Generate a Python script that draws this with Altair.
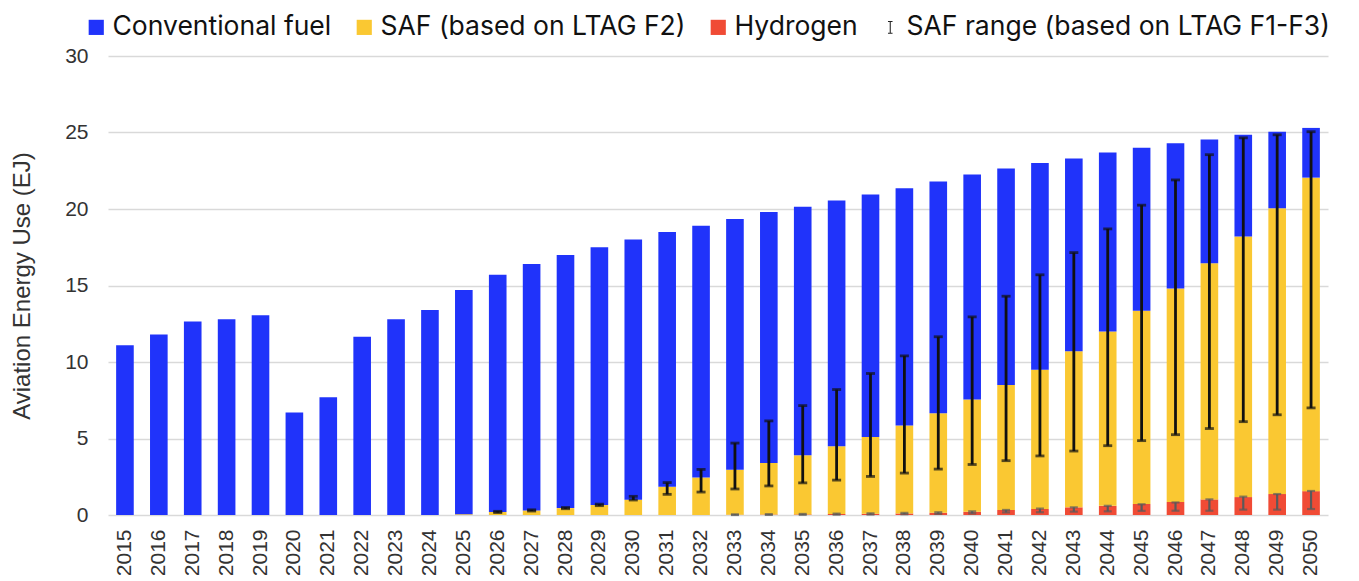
import altair as alt
import pandas as pd

years = [str(y) for y in range(2015, 2051)]

conventional = [11.1, 11.8, 12.65, 12.8, 13.05, 6.7, 7.7, 11.65, 12.8, 13.4,
                14.65, 15.5, 16.1, 16.55, 16.85, 17.0, 16.65, 16.45, 16.4, 16.4,
                16.25, 16.05, 15.85, 15.5, 15.15, 14.7, 14.15, 13.5, 12.6, 11.7,
                10.65, 9.5, 8.1, 6.65, 5.0, 3.25]
saf = [0, 0, 0, 0, 0, 0, 0, 0, 0, 0,
       0.05, 0.2, 0.3, 0.45, 0.65, 1.0, 1.85, 2.45, 2.93, 3.37,
       3.86, 4.44, 5.02, 5.75, 6.5, 7.33, 8.17, 9.11, 10.2, 11.4,
       12.63, 13.95, 15.43, 17.03, 18.68, 20.49]
hydrogen = [0, 0, 0, 0, 0, 0, 0, 0, 0, 0,
            0, 0, 0, 0, 0, 0, 0, 0, 0.02, 0.03,
            0.04, 0.06, 0.08, 0.1, 0.15, 0.22, 0.33, 0.39, 0.5, 0.6,
            0.72, 0.85, 1.02, 1.17, 1.37, 1.56]

saf_err_years = [str(y) for y in range(2026, 2051)]
saf_low = [0.16, 0.26, 0.41, 0.61, 0.98, 1.35, 1.5, 1.7, 1.9, 2.1,
           2.28, 2.52, 2.74, 3.0, 3.3, 3.55, 3.86, 4.18, 4.53, 4.86,
           5.25, 5.65, 6.1, 6.55, 7.0]
saf_high = [0.24, 0.34, 0.49, 0.71, 1.22, 2.12, 2.98, 4.7, 6.15, 7.15,
            8.2, 9.25, 10.4, 11.65, 12.95, 14.3, 15.7, 17.15, 18.7, 20.25,
            21.9, 23.55, 24.65, 24.85, 25.05]

h2_err_years = [str(y) for y in range(2033, 2051)]
h2_low = [0.0, 0.01, 0.01, 0.02, 0.03, 0.05, 0.07, 0.1, 0.17, 0.18,
          0.22, 0.24, 0.27, 0.28, 0.28, 0.35, 0.35, 0.39]
h2_high = [0.04, 0.05, 0.07, 0.09, 0.11, 0.14, 0.18, 0.24, 0.33, 0.42,
           0.5, 0.6, 0.7, 0.82, 1.02, 1.2, 1.37, 1.57]

series_names = ["Conventional fuel", "SAF (based on LTAG F2)", "Hydrogen",
                "SAF range (based on LTAG F1-F3)"]
series_colors = ["#2033FA", "#FAC832", "#F04B35", "#222222"]
series_shapes = ["square", "square", "square",
                 "M-0.3,-0.85H0.3V-0.7H0.07V0.7H0.3V0.85H-0.3V0.7H-0.07V-0.7H-0.3Z"]

rows = []
for i, y in enumerate(years):
    rows.append({"year": y, "series": series_names[2], "value": hydrogen[i], "ord": 0})
    rows.append({"year": y, "series": series_names[1], "value": saf[i], "ord": 1})
    rows.append({"year": y, "series": series_names[0], "value": conventional[i], "ord": 2})
bars_df = pd.DataFrame(rows)

saf_df = pd.DataFrame({"year": saf_err_years, "low": saf_low, "high": saf_high})
h2_df = pd.DataFrame({"year": h2_err_years, "low": h2_low, "high": h2_high})
legend_df = pd.DataFrame({"series": series_names})

FONT = "Liberation Sans"

x_enc = alt.X("year:N", sort=years,
              scale=alt.Scale(domain=years, paddingInner=0.48, paddingOuter=0.24),
              axis=alt.Axis(title=None, labelAngle=-90, labelFontSize=21, labelFont=FONT,
                            labelColor="#333333", labelPadding=14, ticks=False, domain=False,
                            labelBaseline="middle", labelAlign="right"))
y_scale = alt.Scale(domain=[0, 30], nice=False)

color_scale = alt.Scale(domain=series_names, range=series_colors)

bars = alt.Chart(bars_df).mark_bar().encode(
    x=x_enc,
    y=alt.Y("value:Q", stack="zero", scale=y_scale,
            axis=alt.Axis(title="Aviation Energy Use (EJ)", values=[0, 5, 10, 15, 20, 25, 30],
                          labelFontSize=21, labelFont=FONT, labelColor="#333333",
                          labelPadding=20, ticks=False, domain=False,
                          grid=True, gridColor="#d9d9d9", gridWidth=1.5,
                          titleFontSize=24, titleFont=FONT, titleFontWeight="normal",
                          titleColor="#333333", titlePadding=30)),
    color=alt.Color("series:N", scale=color_scale, legend=alt.Legend(title=None)),
    order=alt.Order("ord:Q", sort="ascending"),
)

legend_pts = alt.Chart(legend_df).mark_point(filled=True, opacity=1).encode(
    x=alt.X("series:N"),
    color=alt.Color("series:N", scale=color_scale, legend=alt.Legend(title=None)),
    shape=alt.Shape("series:N", scale=alt.Scale(domain=series_names, range=series_shapes),
                    legend=alt.Legend(title=None)),
).transform_filter("false")

saf_rule = alt.Chart(saf_df).mark_rule(color="#111111", strokeWidth=2.8).encode(
    x=alt.X("year:N", sort=years), y=alt.Y("low:Q", scale=y_scale), y2="high:Q")
saf_cap_lo = alt.Chart(saf_df).mark_tick(color="#111111", thickness=2.8, size=9).encode(
    x=alt.X("year:N", sort=years), y=alt.Y("low:Q", scale=y_scale))
saf_cap_hi = alt.Chart(saf_df).mark_tick(color="#111111", thickness=2.8, size=9).encode(
    x=alt.X("year:N", sort=years), y=alt.Y("high:Q", scale=y_scale))

h2_rule = alt.Chart(h2_df).mark_rule(color="#5a5a5a", strokeWidth=2.2).encode(
    x=alt.X("year:N", sort=years), y=alt.Y("low:Q", scale=y_scale), y2="high:Q")
h2_cap_lo = alt.Chart(h2_df).mark_tick(color="#5a5a5a", thickness=2.2, size=8).encode(
    x=alt.X("year:N", sort=years), y=alt.Y("low:Q", scale=y_scale))
h2_cap_hi = alt.Chart(h2_df).mark_tick(color="#5a5a5a", thickness=2.2, size=8).encode(
    x=alt.X("year:N", sort=years), y=alt.Y("high:Q", scale=y_scale))

chart = alt.layer(
    bars, legend_pts, saf_rule, saf_cap_lo, saf_cap_hi, h2_rule, h2_cap_lo, h2_cap_hi
).resolve_scale(color="shared").properties(
    width=1220, height=459,
    padding={"left": 100, "top": 48, "right": 20, "bottom": 60},
    autosize=alt.AutoSizeParams(type="none"),
).configure_view(stroke=None).configure_legend(
    orient="none", legendX=-25, legendY=-42, direction="horizontal",
    labelFont="Inter", labelFontSize=26.5, labelColor="#111111",
    symbolSize=230, symbolStrokeWidth=0, labelOffset=3, columnPadding=19,
    labelLimit=700,
)

chart.save("out.html", embed_options={"renderer": "svg", "actions": False})
